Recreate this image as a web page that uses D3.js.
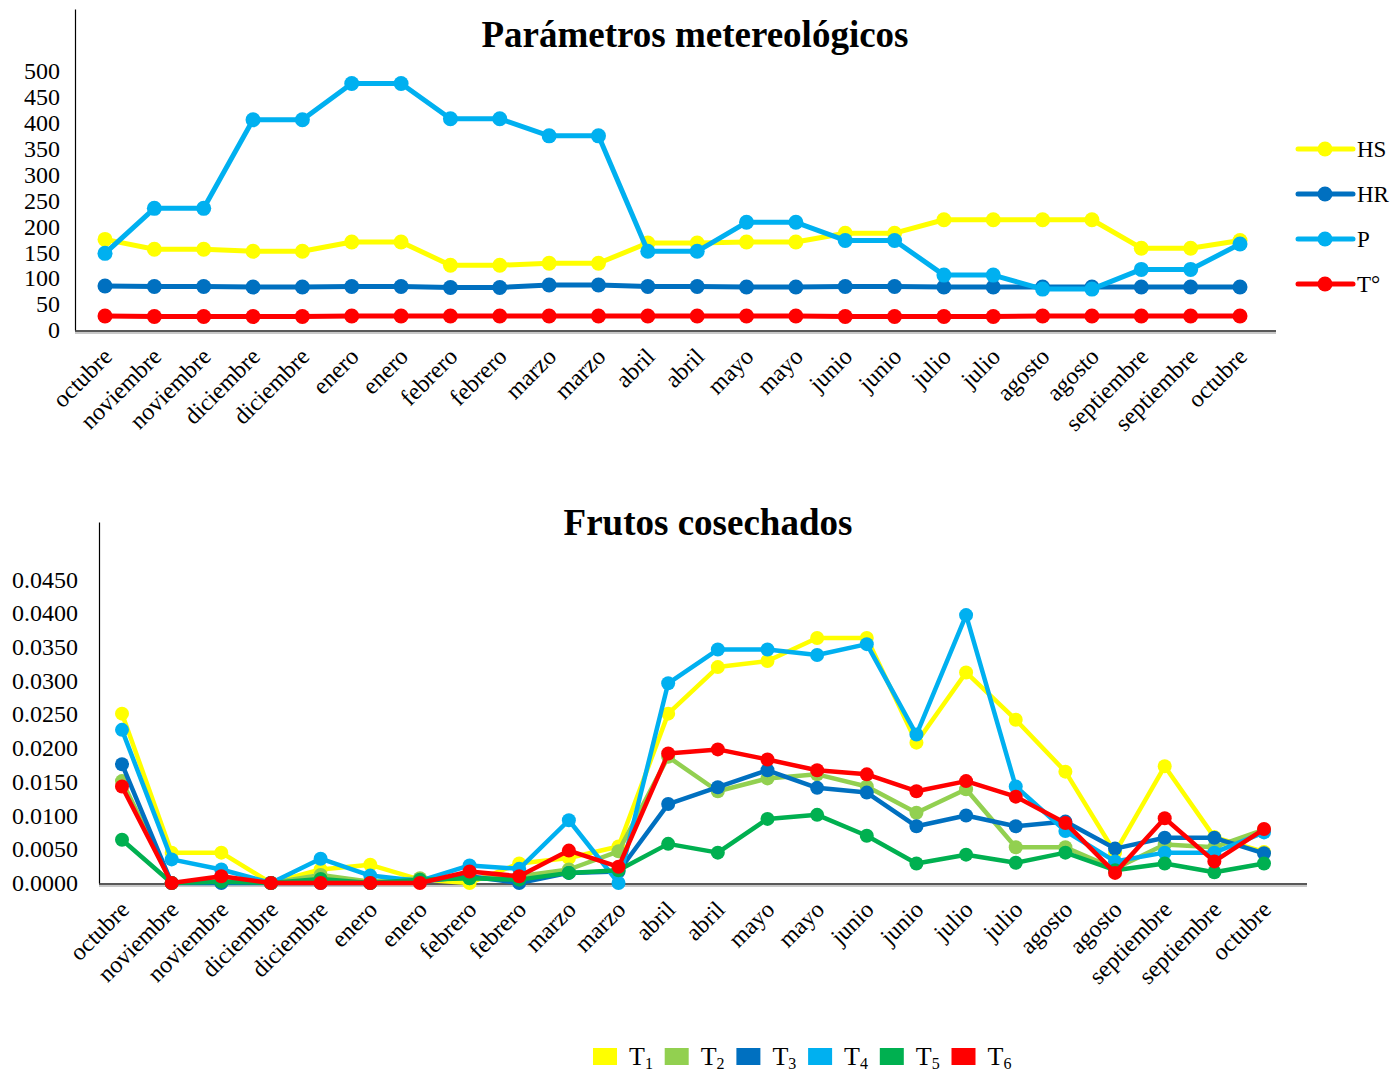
<!DOCTYPE html>
<html>
<head>
<meta charset="utf-8">
<script src="https://cdn.jsdelivr.net/npm/d3@7.9.0/dist/d3.min.js"></script>
<style>
  body { margin: 0; background: #fff; }
  text { font-family: "Liberation Serif", "Times New Roman", serif; fill: #000; }
</style>
</head>
<body>
<div id="chart"></div>
<script>
// categories (same for both charts)
const months = ["octubre", "noviembre", "noviembre", "diciembre", "diciembre", "enero", "enero",
  "febrero", "febrero", "marzo", "marzo", "abril", "abril", "mayo", "mayo", "junio", "junio",
  "julio", "julio", "agosto", "agosto", "septiembre", "septiembre", "octubre"];

// top chart: meteorological parameters
const hs = [175, 156, 156, 152, 152, 170, 170, 125, 125, 129, 129, 168, 168, 170, 170, 187, 187, 213, 213, 213, 213, 158, 158, 173];
const hr = [85, 84, 84, 83, 83, 84, 84, 82, 82, 87, 87, 84, 84, 83, 83, 84, 84, 83, 83, 83, 83, 83, 83, 83];
const prec = [148, 235, 235, 406, 406, 476, 476, 408, 408, 375, 375, 152, 152, 208, 208, 173, 173, 106, 106, 79, 79, 117, 117, 166];
const temp = [27, 26, 26, 26, 26, 27, 27, 27, 27, 27, 27, 27, 27, 27, 27, 26, 26, 26, 26, 27, 27, 27, 27, 27];
const topTicks = [0, 50, 100, 150, 200, 250, 300, 350, 400, 450, 500];

// bottom chart: harvested fruits
const t1 = [0.0251, 0.0045, 0.0045, 0.0000, 0.0020, 0.0027, 0.0005, 0.0000, 0.0029, 0.0037, 0.0054, 0.0251, 0.0320, 0.0329, 0.0363, 0.0363, 0.0208, 0.0312, 0.0242, 0.0165, 0.0045, 0.0173, 0.0068, 0.0046];
const t2 = [0.0151, 0.0000, 0.0005, 0.0000, 0.0012, 0.0002, 0.0007, 0.0007, 0.0010, 0.0020, 0.0047, 0.0187, 0.0136, 0.0155, 0.0161, 0.0143, 0.0104, 0.0139, 0.0053, 0.0053, 0.0021, 0.0057, 0.0053, 0.0079];
const t3 = [0.0176, 0.0000, 0.0000, 0.0000, 0.0000, 0.0000, 0.0002, 0.0010, 0.0000, 0.0015, 0.0017, 0.0117, 0.0142, 0.0167, 0.0141, 0.0134, 0.0084, 0.0100, 0.0084, 0.0091, 0.0051, 0.0067, 0.0067, 0.0044];
const t4 = [0.0227, 0.0035, 0.0020, 0.0000, 0.0036, 0.0011, 0.0003, 0.0026, 0.0021, 0.0093, 0.0000, 0.0296, 0.0346, 0.0346, 0.0338, 0.0354, 0.0220, 0.0397, 0.0143, 0.0077, 0.0032, 0.0045, 0.0045, 0.0075];
const t5 = [0.0064, 0.0000, 0.0002, 0.0000, 0.0006, 0.0000, 0.0005, 0.0007, 0.0005, 0.0015, 0.0019, 0.0058, 0.0045, 0.0095, 0.0101, 0.0070, 0.0029, 0.0042, 0.0030, 0.0045, 0.0019, 0.0029, 0.0016, 0.0029];
const t6 = [0.0143, 0.0000, 0.0010, 0.0000, 0.0000, 0.0000, 0.0000, 0.0017, 0.0010, 0.0048, 0.0024, 0.0192, 0.0198, 0.0183, 0.0167, 0.0161, 0.0136, 0.0151, 0.0128, 0.0089, 0.0015, 0.0096, 0.0032, 0.0080];
const bottomTicks = [0, 0.005, 0.01, 0.015, 0.02, 0.025, 0.03, 0.035, 0.04, 0.045];

const width = 1396,
  height = 1075;

const svg = d3
  .select("#chart")
  .append("svg")
  .attr("width", width)
  .attr("height", height)
  .style("background", "#fff");

const idx = d3.range(months.length);

// draws one line chart panel
function panel(opts) {
  const x = d3.scalePoint().domain(idx).range(opts.xRange);
  const y = d3.scaleLinear().domain(opts.yDomain).range(opts.yRange);
  const g = svg.append("g");

  // y axis
  g.append("g")
    .attr("transform", `translate(${opts.axisX},0)`)
    .call(d3.axisLeft(y).tickValues(opts.ticks).tickSize(0).tickSizeOuter(0)
      .tickPadding(opts.tickPad).tickFormat(opts.fmt))
    .call((a) => a.select(".domain").attr("stroke", "#000").attr("stroke-width", 1.2))
    .call((a) => a.selectAll("text").style("font-size", opts.yFont + "px")
      .style("font-family", "'Liberation Serif', serif"));

  // x axis: baseline with a soft shadow
  const y0 = y(0) + 1;
  g.append("line")
    .attr("x1", opts.axisX).attr("x2", opts.axisEnd)
    .attr("y1", y0 + 2).attr("y2", y0 + 2)
    .attr("stroke", "#c8c8c8").attr("stroke-width", 2);
  g.append("line")
    .attr("x1", opts.axisX).attr("x2", opts.axisEnd)
    .attr("y1", y0).attr("y2", y0)
    .attr("stroke", "#222").attr("stroke-width", 1.6);

  g.append("g")
    .attr("transform", `translate(0,${y0})`)
    .call(d3.axisBottom(x).tickSize(0).tickFormat((i) => months[i]))
    .call((a) => a.select(".domain").remove())
    .selectAll("text")
    .attr("x", 0)
    .attr("y", 0)
    .attr("dy", 0)
    .attr("text-anchor", "end")
    .attr("transform", `translate(${opts.lblDx},${opts.lblDy}) rotate(-45)`)
    .style("font-size", "24px")
    .style("font-family", "'Liberation Serif', serif");

  const line = d3.line().x((d, i) => x(i)).y((d) => y(d));

  opts.series.forEach((s) => {
    const sg = g.append("g");
    sg.append("path")
      .datum(s.values)
      .attr("d", line)
      .attr("fill", "none")
      .attr("stroke", s.color)
      .attr("stroke-width", opts.lw)
      .attr("stroke-linejoin", "round");
    sg.selectAll("circle")
      .data(s.values)
      .join("circle")
      .attr("cx", (d, i) => x(i))
      .attr("cy", (d) => y(d))
      .attr("r", opts.r)
      .attr("fill", s.color);
  });

  // title
  svg.append("text")
    .attr("x", opts.titleX)
    .attr("y", opts.titleY)
    .attr("text-anchor", "middle")
    .style("font-size", "37px")
    .style("font-weight", "bold")
    .text(opts.title);

  return { x, y };
}

const topSeries = [
  { name: "HS", values: hs, color: "#FFFF00" },
  { name: "HR", values: hr, color: "#0070C0" },
  { name: "P", values: prec, color: "#00B0F0" },
  { name: "T°", values: temp, color: "#FF0000" },
];

panel({
  xRange: [105, 1240],
  yDomain: [0, 620],
  yRange: [330, 9],
  axisX: 75,
  axisEnd: 1276,
  ticks: topTicks,
  fmt: d3.format("d"),
  tickPad: 15,
  yFont: 24,
  lblDx: 8,
  lblDy: 27,
  lw: 5,
  r: 7.5,
  series: topSeries,
  title: "Parámetros metereológicos",
  titleX: 695,
  titleY: 47,
});

const bottomSeries = [
  { name: "1", values: t1, color: "#FFFF00" },
  { name: "2", values: t2, color: "#92D050" },
  { name: "3", values: t3, color: "#0070C0" },
  { name: "4", values: t4, color: "#00B0F0" },
  { name: "5", values: t5, color: "#00B050" },
  { name: "6", values: t6, color: "#FF0000" },
];

panel({
  xRange: [122, 1264],
  yDomain: [0, 0.0535],
  yRange: [883, 522],
  axisX: 99,
  axisEnd: 1307,
  ticks: bottomTicks,
  fmt: d3.format(".4f"),
  tickPad: 21,
  yFont: 24,
  lblDx: 8,
  lblDy: 27,
  lw: 4.5,
  r: 7,
  series: bottomSeries,
  title: "Frutos cosechados",
  titleX: 708,
  titleY: 535,
});

// top legend (line + marker)
const legTop = svg.append("g").attr("transform", "translate(1298,149)");
const lt = legTop
  .selectAll("g")
  .data(topSeries)
  .join("g")
  .attr("transform", (d, i) => `translate(0,${i * 45})`);
lt.append("line")
  .attr("x1", 0).attr("x2", 55)
  .attr("stroke", (d) => d.color)
  .attr("stroke-width", 5)
  .attr("stroke-linecap", "round");
lt.append("circle").attr("cx", 27).attr("r", 7.5).attr("fill", (d) => d.color);
lt.append("text")
  .attr("x", 59)
  .attr("dy", "0.35em")
  .style("font-size", "23px")
  .text((d) => d.name);

// bottom legend (squares + subscripted T)
const legBot = svg.append("g").attr("transform", "translate(593,1048)");
const lb = legBot
  .selectAll("g")
  .data(bottomSeries)
  .join("g")
  .attr("transform", (d, i) => `translate(${i * 71.7},0)`);
lb.append("rect")
  .attr("width", 24)
  .attr("height", 17)
  .attr("fill", (d) => d.color);
const lbt = lb.append("text")
  .attr("x", 36)
  .attr("y", 17)
  .style("font-size", "26px");
lbt.append("tspan").text("T");
lbt.append("tspan")
  .attr("dy", 4)
  .style("font-size", "16px")
  .text((d) => d.name);
</script>
</body>
</html>
